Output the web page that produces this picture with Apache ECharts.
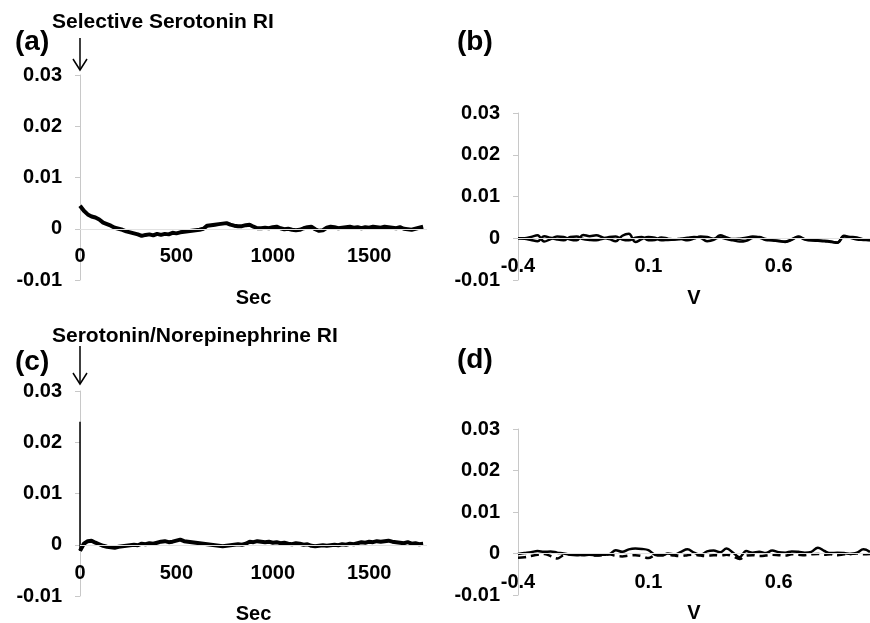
<!DOCTYPE html>
<html lang="en">
<head>
    <meta charset="UTF-8">
    <title>SSRI / SNRI traces</title>
    <script src="https://cdn.jsdelivr.net/npm/echarts@6/dist/echarts.min.js"></script>
    <style>
        html, body { margin: 0; padding: 0; background: #fff; }
    </style>
</head>
<body>
<div id="eCharts" style="width: 870px;height: 623px"></div>

<script>
    // ---- data ----
    var sampleStep = 20; // s between samples in (a) and (c)

    // (a) Selective Serotonin RI, time trace
    var ssriTrace = [0.0045, 0.0035, 0.0028, 0.0024, 0.0022, 0.0018, 0.0012, 0.0009, 0.0006, 0.0002,
        0, -0.0002, -0.0005, -0.0007, -0.0009, -0.0011, -0.0014, -0.0012, -0.0011, -0.0013,
        -0.001, -0.0012, -0.001, -0.0011, -0.0008, -0.0009, -0.0007, -0.0006, -0.0005, -0.0004,
        -0.0003, -0.0002, 0, 0.0006, 0.0007, 0.0008, 0.0009, 0.001, 0.0011, 0.0008,
        0.0006, 0.0005, 0.0005, 0.0007, 0.0008, 0.0004, 0.0001, 0.0001, 0.0002, 0.0001,
        0.0003, 0.0004, 0.0001, -0.0001, 0, -0.0002, -0.0003, -0.0002, 0.0001, 0.0003,
        0.0004, -0.0001, -0.0004, -0.0003, 0.0002, 0.0004, 0.0003, 0.0001, 0.0002, 0.0003,
        0.0004, 0.0002, 0.0003, 0.0001, 0.0003, 0.0002, 0.0004, 0.0003, 0.0002, 0.0004,
        0.0003, 0.0002, 0.0001, 0.0003, 0, -0.0001, -0.0002, 0, 0.0002, 0.0004];

    // (c) Serotonin/Norepinephrine RI, time trace (spike at injection)
    var snriSpike = 0.024;
    var snriTrace = [-0.0012, 0.0002, 0.0007, 0.0008, 0.0004, 0.0001, -0.0002, -0.0004, -0.0005, -0.0006,
        -0.0004, -0.0003, -0.0002, -0.0001, 0, -0.0001, 0.0002, 0.0001, 0.0003, 0.0002,
        0.0004, 0.0006, 0.0007, 0.0005, 0.0006, 0.0008, 0.001, 0.0007, 0.0006, 0.0005,
        0.0004, 0.0003, 0.0002, 0.0001, 0, -0.0001, -0.0002, -0.0003, -0.0002, -0.0001,
        0, 0.0001, 0, 0.0002, 0.0006, 0.0005, 0.0007, 0.0006, 0.0005, 0.0006,
        0.0004, 0.0005, 0.0003, 0.0004, 0.0002, 0.0001, 0.0003, 0.0002, 0, 0.0001,
        -0.0002, -0.0003, -0.0002, -0.0001, -0.0002, -0.0001, 0, -0.0001, 0.0001, 0,
        0.0002, 0.0001, 0.0003, 0.0005, 0.0004, 0.0006, 0.0005, 0.0007, 0.0006, 0.0007,
        0.0008, 0.0006, 0.0005, 0.0004, 0.0003, 0.0005, 0.0002, 0.0003, 0.0001, 0.0002];

    // (b), (d) voltammograms
    var volts = [-0.4, -0.375, -0.35, -0.325, -0.3, -0.275, -0.25, -0.225, -0.2, -0.175,
        -0.15, -0.125, -0.1, -0.075, -0.05, -0.025, 0, 0.025, 0.05, 0.075,
        0.1, 0.125, 0.15, 0.175, 0.2, 0.225, 0.25, 0.275, 0.3, 0.325,
        0.35, 0.375, 0.4, 0.425, 0.45, 0.475, 0.5, 0.525, 0.55, 0.575,
        0.6, 0.625, 0.65, 0.675, 0.7, 0.725, 0.75, 0.775, 0.8, 0.825,
        0.85, 0.875, 0.9, 0.925, 0.95];

    var cvB1 = [0, 0, 0.0003, 0.0007, -0.0008, -0.0002, 0.0004, 0.0003, -0.0003, -0.0005,
        0.0008, 0.0005, 0.0007, 0.0002, -0.0002, -0.0007, 0.0006, 0.0011, -0.0009, -0.0002,
        0.0003, 0.0001, -0.0005, -0.0004, -0.0003, -0.0002, -0.0005, -0.0001, 0.0004, 0.0003,
        -0.0001, 0.0002, -0.0002, -0.0005, -0.0008, -0.0006, 0.0001, 0.0003, -0.0002, -0.0005,
        -0.0006, -0.0009, -0.0004, 0.0004, -0.0002, -0.0005, -0.0006, -0.0007, -0.0009, -0.001,
        0.0006, 0.0001, -0.0003, -0.0004, -0.0005];
    var cvB2 = [0, -0.0001, -0.0004, -0.0007, 0.0005, 0.0001, -0.0003, -0.0005, 0.0003, 0.0004,
        -0.0002, -0.0004, -0.0005, -0.0001, 0.0003, 0.0004, -0.0003, -0.0005, 0.0001, 0.0003,
        -0.0005, -0.0004, 0.0002, -0.0001, -0.0003, -0.0001, 0.0001, 0.0003, 0.0001, -0.0007,
        -0.0004, 0.0007, 0.0002, -0.0002, -0.0001, 0.0001, 0.0004, 0.0002, -0.0004, -0.0005,
        -0.0007, -0.0008, -0.0002, 0.0003, -0.0003, -0.0005, -0.0005, -0.0006, -0.0008, -0.0011,
        0.0004, 0.0003, 0.0002, -0.0003, -0.0004];

    var cvD1 = [-0.0001, 0.0001, 0.0003, 0.0006, 0.0004, 0.0005, 0.0002, 0, -0.0003, -0.0004,
        -0.0003, -0.0003, -0.0004, -0.0003, -0.0002, 0.0008, 0.0004, 0.001, 0.0012, 0.0011,
        0.0008, -0.0003, -0.0005, 0, -0.0002, 0.0004, 0.001, 0.0002, -0.0003, 0.0005,
        0.0007, 0.0003, 0.0012, 0.0002, -0.0009, 0.0006, 0.0002, 0.0004, 0.0001, 0.0007,
        0.0003, 0.0002, 0.0005, 0.0004, 0.0002, 0.0004, 0.0014, 0.0006, 0.0001, 0.0002,
        0.0001, -0.0001, 0.0002, 0.001, 0.0004];
    var cvD2 = [-0.001, -0.0009, -0.0006, -0.0003, -0.0001, -0.0006, -0.0012, -0.0004, -0.0002, -0.0003,
        -0.0004, -0.0003, -0.0005, -0.0004, -0.0002, -0.0006, -0.0007, -0.0005, -0.0004, -0.0006,
        -0.0011, -0.0004, -0.0002, -0.0003, -0.0005, -0.0006, -0.0004, -0.0003, -0.0005, -0.0006,
        -0.0004, -0.0005, -0.0003, -0.0007, -0.0013, -0.0005, -0.0004, -0.0006, -0.0005, -0.0003,
        -0.0004, -0.0005, -0.0002, -0.0003, -0.0004, -0.0002, -0.0001, -0.0003, -0.0002, -0.0004,
        -0.0002, -0.0001, 0, -0.0002, -0.0001];

    var panelTitles = ['Selective Serotonin RI', 'Serotonin/Norepinephrine RI'];
    var panelLetters = ['(a)', '(b)', '(c)', '(d)'];

    // ---- helpers ----
    function timePairs(arr) {
        return arr.map(function (v, i) { return [i * sampleStep, v]; });
    }
    function cvPairs(arr) {
        return arr.map(function (v, i) { return [volts[i], v]; });
    }
    function fmtY(v) {
        return Math.abs(v) < 1e-9 ? '0' : v.toFixed(2);
    }
    function fmtT(v) {
        return String(Math.round(v));
    }
    function fmtV(v) {
        return (Math.round(v * 10) / 10).toString();
    }

    var FONT = '"Liberation Sans", Arial, sans-serif';
    var lbl = {color: '#000', fontFamily: FONT, fontWeight: 'bold', fontSize: 20};
    var grey = '#c8c8c8';

    function yAxisOf(idx) {
        return {
            gridIndex: idx, type: 'value', min: -0.01, max: 0.03, interval: 0.01,
            axisLine: {show: true, onZero: false, lineStyle: {color: grey}},
            axisTick: {show: true, length: 5, lineStyle: {color: grey}},
            splitLine: {show: false},
            axisLabel: Object.assign({margin: 18, formatter: fmtY}, lbl)
        };
    }
    // x labels sit just under the zero line (Excel "low" labels), so pull them up from the bottom edge
    function xAxisOf(idx, min, max, interval, name, fmt, labelMargin) {
        return {
            gridIndex: idx, type: 'value', position: 'bottom', min: min, max: max, interval: interval,
            name: name, nameLocation: 'middle', nameGap: 8,
            nameTextStyle: lbl,
            axisLine: {show: false, onZero: false},
            axisTick: {show: false},
            splitLine: {show: false},
            axisLabel: Object.assign({margin: labelMargin, showMaxLabel: false, formatter: fmt}, lbl)
        };
    }
    var zeroLine = {
        silent: true, symbol: 'none', label: {show: false},
        lineStyle: {color: '#e2e2e2', width: 1, type: 'solid'},
        data: [{yAxis: 0}]
    };

    var myChart = echarts.init(document.getElementById('eCharts'));

    var option = {
        backgroundColor: '#fff',
        animation: false,
        grid: [
            {left: 80, top: 75, width: 347, height: 205, outerBoundsMode: 'none'},
            {left: 518, top: 113, width: 352, height: 167, outerBoundsMode: 'none'},
            {left: 80, top: 391, width: 347, height: 205, outerBoundsMode: 'none'},
            {left: 518, top: 429, width: 352, height: 166, outerBoundsMode: 'none'}
        ],
        xAxis: [
            xAxisOf(0, 0, 1800, 500, 'Sec', fmtT, -34),
            xAxisOf(1, -0.4, 0.95, 0.5, 'V', fmtV, -24),
            xAxisOf(2, 0, 1800, 500, 'Sec', fmtT, -33),
            xAxisOf(3, -0.4, 0.95, 0.5, 'V', fmtV, -23)
        ],
        yAxis: [yAxisOf(0), yAxisOf(1), yAxisOf(2), yAxisOf(3)],
        series: [
            {type: 'line', xAxisIndex: 0, yAxisIndex: 0, data: timePairs(ssriTrace), showSymbol: false,
                lineStyle: {color: '#000', width: 4}, markLine: zeroLine, z: 3},
            {type: 'line', xAxisIndex: 1, yAxisIndex: 1, data: cvPairs(cvB1), showSymbol: false, smooth: 0.4,
                lineStyle: {color: '#000', width: 2.5}, markLine: zeroLine, z: 3},
            {type: 'line', xAxisIndex: 1, yAxisIndex: 1, data: cvPairs(cvB2), showSymbol: false, smooth: 0.4,
                lineStyle: {color: '#000', width: 2.5}, z: 3},
            {type: 'line', xAxisIndex: 2, yAxisIndex: 2, data: [[0, snriSpike], [0, snriTrace[0]]], showSymbol: false,
                lineStyle: {color: '#000', width: 1.5}, z: 3},
            {type: 'line', xAxisIndex: 2, yAxisIndex: 2, data: timePairs(snriTrace), showSymbol: false,
                lineStyle: {color: '#000', width: 4}, markLine: zeroLine, z: 3},
            {type: 'line', xAxisIndex: 3, yAxisIndex: 3, data: cvPairs(cvD1), showSymbol: false, smooth: 0.4,
                lineStyle: {color: '#000', width: 2.5}, markLine: zeroLine, z: 3},
            {type: 'line', xAxisIndex: 3, yAxisIndex: 3, data: cvPairs(cvD2), showSymbol: false, smooth: 0.4,
                lineStyle: {color: '#000', width: 2.5, type: [8, 5]}, z: 3}
        ],
        graphic: [
            {type: 'text', left: 52, top: 12, style: {text: panelTitles[0], font: 'bold 21px ' + FONT, fill: '#000'}},
            {type: 'text', left: 52, top: 326, style: {text: panelTitles[1], font: 'bold 21px ' + FONT, fill: '#000'}},
            {type: 'text', left: 15, top: 28, style: {text: panelLetters[0], font: 'bold 28px ' + FONT, fill: '#000'}},
            {type: 'text', left: 457, top: 28, style: {text: panelLetters[1], font: 'bold 28px ' + FONT, fill: '#000'}},
            {type: 'text', left: 15, top: 348, style: {text: panelLetters[2], font: 'bold 28px ' + FONT, fill: '#000'}},
            {type: 'text', left: 457, top: 346, style: {text: panelLetters[3], font: 'bold 28px ' + FONT, fill: '#000'}},
            // injection arrows
            {type: 'line', shape: {x1: 80, y1: 38, x2: 80, y2: 70}, style: {stroke: '#000', lineWidth: 1.5}},
            {type: 'polyline', shape: {points: [[73, 59], [80, 70], [87, 59]]}, style: {stroke: '#000', lineWidth: 1.5, fill: null}},
            {type: 'line', shape: {x1: 80, y1: 346, x2: 80, y2: 384}, style: {stroke: '#000', lineWidth: 1.5}},
            {type: 'polyline', shape: {points: [[73, 373], [80, 384], [87, 373]]}, style: {stroke: '#000', lineWidth: 1.5, fill: null}}
        ]
    };

    myChart.setOption(option);
</script>
</body>
</html>
